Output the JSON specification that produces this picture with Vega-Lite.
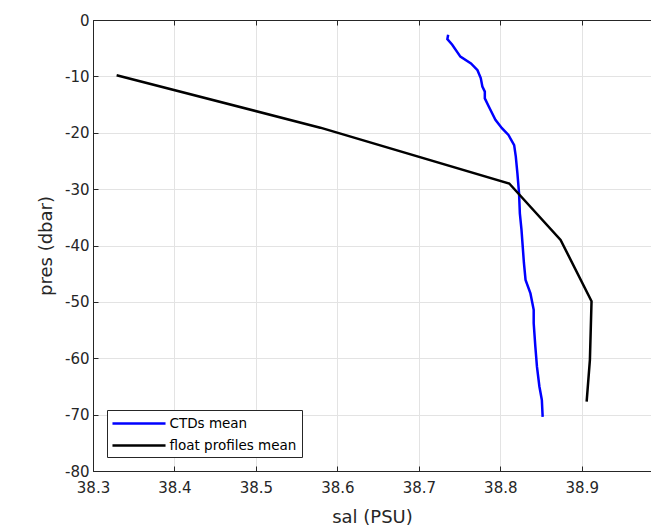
{
  "$schema": "https://vega.github.io/schema/vega-lite/v6.json",
  "autosize": "none",
  "padding": {"left": 93, "top": 20, "right": 0, "bottom": 58},
  "width": 558,
  "height": 451,
  "background": "white",
  "config": {
    "font": "DejaVu Sans",
    "view": {"stroke": "#262626", "strokeWidth": 1},
    "axis": {
      "labelFont": "DejaVu Sans",
      "titleFont": "DejaVu Sans",
      "labelFontSize": 15,
      "labelColor": "#262626",
      "titleColor": "#262626",
      "titleFontSize": 18,
      "titleFontWeight": "normal",
      "domainColor": "#262626",
      "tickColor": "#262626",
      "gridColor": "#e3e3e3",
      "gridWidth": 1,
      "labelFlush": false,
      "labelOverlap": false
    },
    "legend": {
      "labelFont": "DejaVu Sans",
      "labelFontSize": 13.5,
      "labelColor": "#000000"
    }
  },
  "data": {
    "values": [
      {"series": "CTDs mean", "sal": 38.736, "pres": -2.6},
      {"series": "CTDs mean", "sal": 38.735, "pres": -3.4},
      {"series": "CTDs mean", "sal": 38.741, "pres": -4.4},
      {"series": "CTDs mean", "sal": 38.751, "pres": -6.5},
      {"series": "CTDs mean", "sal": 38.764, "pres": -7.7},
      {"series": "CTDs mean", "sal": 38.772, "pres": -8.9},
      {"series": "CTDs mean", "sal": 38.776, "pres": -10.3},
      {"series": "CTDs mean", "sal": 38.778, "pres": -11.8},
      {"series": "CTDs mean", "sal": 38.781, "pres": -12.7},
      {"series": "CTDs mean", "sal": 38.781, "pres": -13.9},
      {"series": "CTDs mean", "sal": 38.786, "pres": -15.4},
      {"series": "CTDs mean", "sal": 38.794, "pres": -17.7},
      {"series": "CTDs mean", "sal": 38.802, "pres": -19.2},
      {"series": "CTDs mean", "sal": 38.810, "pres": -20.4},
      {"series": "CTDs mean", "sal": 38.817, "pres": -22.2},
      {"series": "CTDs mean", "sal": 38.819, "pres": -24.2},
      {"series": "CTDs mean", "sal": 38.821, "pres": -27.2},
      {"series": "CTDs mean", "sal": 38.823, "pres": -30.7},
      {"series": "CTDs mean", "sal": 38.824, "pres": -34.3},
      {"series": "CTDs mean", "sal": 38.826, "pres": -37.2},
      {"series": "CTDs mean", "sal": 38.829, "pres": -43.1},
      {"series": "CTDs mean", "sal": 38.831, "pres": -46.1},
      {"series": "CTDs mean", "sal": 38.837, "pres": -48.5},
      {"series": "CTDs mean", "sal": 38.841, "pres": -51.4},
      {"series": "CTDs mean", "sal": 38.841, "pres": -53.8},
      {"series": "CTDs mean", "sal": 38.843, "pres": -57.9},
      {"series": "CTDs mean", "sal": 38.845, "pres": -61.5},
      {"series": "CTDs mean", "sal": 38.848, "pres": -65.0},
      {"series": "CTDs mean", "sal": 38.851, "pres": -67.4},
      {"series": "CTDs mean", "sal": 38.852, "pres": -70.4},
      {"series": "float profiles mean", "sal": 38.329, "pres": -9.8},
      {"series": "float profiles mean", "sal": 38.579, "pres": -19.1},
      {"series": "float profiles mean", "sal": 38.811, "pres": -29.0},
      {"series": "float profiles mean", "sal": 38.874, "pres": -39.0},
      {"series": "float profiles mean", "sal": 38.912, "pres": -49.9},
      {"series": "float profiles mean", "sal": 38.910, "pres": -60.3},
      {"series": "float profiles mean", "sal": 38.906, "pres": -67.7}
    ]
  },
  "layer": [
    {
      "mark": {"type": "line", "strokeWidth": 2.5, "clip": true},
      "encoding": {
        "x": {
          "field": "sal", "type": "quantitative",
          "scale": {"domain": [38.3, 38.985], "nice": false, "zero": false},
          "axis": {
            "title": "sal (PSU)",
            "values": [38.3, 38.4, 38.5, 38.6, 38.7, 38.8, 38.9],
            "format": ".1f",
            "tickSize": -5,
            "labelPadding": 14,
            "titlePadding": 13,
            "grid": true
          }
        },
        "y": {
          "field": "pres", "type": "quantitative",
          "scale": {"domain": [-80, 0], "nice": false, "zero": false},
          "axis": {
            "title": "pres (dbar)",
            "values": [0, -10, -20, -30, -40, -50, -60, -70, -80],
            "labelExpr": "toString(datum.value)",
            "tickSize": -5,
            "labelPadding": 9,
            "titlePadding": 9,
            "grid": true
          }
        },
        "color": {
          "field": "series", "type": "nominal",
          "scale": {"domain": ["CTDs mean", "float profiles mean"], "range": ["#0000ff", "#000000"]},
          "legend": {
            "title": null,
            "orient": "bottom-left",
            "offset": 14,
            "symbolType": "M-3.79,0H3.79",
            "symbolSize": 196,
            "symbolStrokeWidth": 2.5,
            "symbolFillColor": "transparent",
            "symbolOffset": 18.5,
            "fillColor": "white",
            "strokeColor": "#262626",
            "padding": 5,
            "rowPadding": 7,
            "labelOffset": 22
          }
        },
        "order": {"field": "pres", "sort": "descending"}
      }
    },
    {
      "mark": {"type": "rule", "opacity": 0},
      "encoding": {
        "x": {
          "datum": 38.3, "type": "quantitative",
          "axis": {
            "orient": "top",
            "title": null,
            "labels": false,
            "values": [38.3, 38.4, 38.5, 38.6, 38.7, 38.8, 38.9],
            "tickSize": -5,
            "grid": false
          }
        }
      }
    }
  ],
  "resolve": {"axis": {"x": "independent"}}
}
